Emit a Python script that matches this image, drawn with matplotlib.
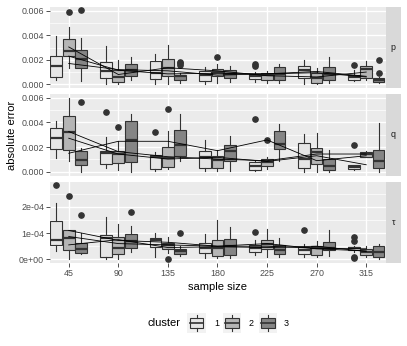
import numpy as np
import matplotlib
matplotlib.use("Agg")
import matplotlib.pyplot as plt
from matplotlib.patches import Rectangle
from matplotlib.lines import Line2D

plt.rcParams['font.family'] = ['Liberation Sans', 'DejaVu Sans']

# ---------------- data ----------------
sample_sizes = [45, 90, 135, 180, 225, 270, 315]
clusters = ['1', '2', '3']
params = ['p', 'q', 'τ']

# p panel (values in units of 1e-3)
p_lo = [[0.33, 0.05, 0.05, 0.05, 0.22, 0.05, 0.27],
        [1.36, 0.05, 0.05, 0.14, 0.14, 0.00, 0.33],
        [0.27, 0.33, 0.14, 0.22, 0.14, 0.11, 0.14]]
p_q1 = [[0.63, 0.55, 0.40, 0.27, 0.41, 0.49, 0.38],
        [2.30, 0.22, 0.68, 0.68, 0.33, 0.11, 0.49],
        [1.36, 0.68, 0.33, 0.55, 0.38, 0.33, 0.22]]
p_med = [[1.50, 1.10, 0.95, 0.76, 0.68, 1.15, 0.60],
         [2.73, 0.60, 1.36, 1.00, 0.74, 0.55, 1.28],
         [2.05, 1.17, 0.68, 0.87, 0.82, 0.82, 0.38]]
p_q3 = [[2.30, 1.85, 1.90, 1.10, 0.87, 1.50, 0.76],
        [3.68, 1.20, 2.05, 1.28, 0.95, 0.90, 1.47],
        [2.80, 1.65, 0.76, 1.17, 1.45, 1.45, 0.55]]
p_hi = [[3.95, 3.10, 2.50, 1.40, 1.00, 1.96, 1.17],
        [4.64, 1.95, 3.20, 1.64, 1.10, 1.36, 1.90],
        [3.80, 2.25, 0.95, 1.50, 1.64, 2.24, 0.60]]
p_out = [[[], [], [], [], [1.65, 1.50], [], [1.55]],
         [[5.90], [], [], [2.24], [], [], []],
         [[6.05], [], [1.85, 1.70, 1.55], [], [], [], [2.00, 0.90]]]
p_mean = [[1.70, 1.20, 1.10, 0.75, 0.85, 1.05, 0.65],
          [3.05, 0.80, 1.35, 1.10, 0.70, 0.60, 1.00],
          [2.30, 1.15, 0.85, 0.90, 0.85, 0.95, 0.60]]

# q panel (values in units of 1e-3)
q_lo = [[1.11, 0.30, 0.08, 0.08, 0.05, 0.00, 0.16],
        [0.84, 0.14, 0.22, 0.08, 0.22, 0.00, 1.17],
        [0.00, 0.00, 0.84, 0.08, 0.90, 0.00, 0.00]]
q_q1 = [[1.85, 0.62, 0.22, 0.30, 0.16, 0.30, 0.19],
        [1.76, 0.68, 0.41, 0.30, 0.43, 0.62, 1.22],
        [0.57, 0.76, 1.30, 0.90, 1.85, 0.16, 0.30]]
q_med = [[2.72, 1.52, 1.17, 1.22, 0.49, 1.03, 0.35],
         [3.26, 1.44, 1.09, 0.98, 0.81, 1.63, 1.44],
         [0.98, 2.58, 2.17, 1.66, 2.25, 0.49, 0.84]]
q_q3 = [[3.56, 1.71, 1.38, 1.71, 0.81, 2.31, 0.52],
        [4.48, 1.71, 2.04, 1.25, 1.03, 1.93, 1.57],
        [1.71, 4.15, 3.39, 2.17, 3.34, 1.03, 1.79]]
q_hi = [[4.15, 2.85, 1.57, 2.60, 0.90, 3.07, 0.57],
        [6.00, 2.52, 3.34, 1.76, 1.17, 3.12, 1.66],
        [1.93, 4.70, 4.64, 2.93, 3.88, 1.79, 3.96]]
q_out = [[[], [4.83], [3.26], [], [4.29], [], [2.20]],
         [[], [3.61], [5.05], [], [2.58], [], []],
         [[5.65], [], [], [], [], [], []]]
q_mean = [[2.72, 1.44, 1.03, 1.17, 0.84, 1.30, 0.57],
          [3.26, 1.63, 1.22, 1.03, 0.90, 1.44, 1.44],
          [1.50, 2.47, 2.47, 1.71, 2.58, 0.90, 1.30]]

# tau panel (values in units of 1e-4)
t_lo = [[0.32, 0.00, 0.08, 0.04, 0.17, 0.08, 0.29],
        [0.00, 0.00, 0.23, 0.04, 0.08, 0.10, 0.08],
        [0.19, 0.27, 0.12, 0.04, 0.10, 0.14, 0.00]]
t_q1 = [[0.55, 0.10, 0.46, 0.23, 0.26, 0.19, 0.36],
        [0.36, 0.19, 0.40, 0.14, 0.40, 0.17, 0.17],
        [0.23, 0.45, 0.19, 0.17, 0.19, 0.36, 0.08]]
t_med = [[0.74, 0.83, 0.74, 0.45, 0.45, 0.36, 0.42],
         [0.83, 0.42, 0.55, 0.45, 0.59, 0.42, 0.29],
         [0.40, 0.68, 0.32, 0.49, 0.36, 0.45, 0.27]]
t_q3 = [[1.47, 0.94, 0.81, 0.64, 0.55, 0.46, 0.46],
        [1.10, 0.85, 0.62, 0.74, 0.74, 0.49, 0.40],
        [0.62, 0.96, 0.40, 0.77, 0.55, 0.65, 0.49]]
t_hi = [[2.15, 1.60, 1.00, 0.96, 0.74, 0.58, 0.50],
        [1.12, 1.35, 0.87, 1.50, 1.15, 0.68, 0.49],
        [1.00, 1.26, 0.49, 1.22, 0.83, 1.13, 0.58]]
t_out = [[[2.83], [], [], [], [1.06], [1.13], [0.87, 0.68, 0.10, 0.04]],
         [[2.41], [], [0.00], [], [], [], []],
         [[1.70], [1.80], [1.00], [], [], [], []]]
t_mean = [[1.10, 0.72, 0.65, 0.50, 0.50, 0.42, 0.40],
          [0.87, 0.60, 0.55, 0.50, 0.60, 0.40, 0.32],
          [0.55, 0.75, 0.45, 0.48, 0.45, 0.50, 0.30]]

panel_scale = [1e-3, 1e-3, 1e-4]
ytick_vals = [[0, 0.002, 0.004, 0.006], [0, 0.002, 0.004, 0.006], [0, 1e-4, 2e-4]]
ytick_labels = [['0.000', '0.002', '0.004', '0.006'],
                ['0.000', '0.002', '0.004', '0.006'],
                ['0e+00', '1e-04', '2e-04']]
yminor_vals = [[0.001, 0.003, 0.005], [0.001, 0.003, 0.005], [0.5e-4, 1.5e-4, 2.5e-4]]

panels = [(p_lo, p_q1, p_med, p_q3, p_hi, p_out, p_mean),
          (q_lo, q_q1, q_med, q_q3, q_hi, q_out, q_mean),
          (t_lo, t_q1, t_med, t_q3, t_hi, t_out, t_mean)]

# ---------------- style ----------------
fills = ['#E6E6E6', '#B5B5B5', '#858585']
edge = '#333333'
panel_bg = '#EBEBEB'
strip_bg = '#D9D9D9'
tick_col = '#4D4D4D'

W, H = 407, 346
fig = plt.figure(figsize=(W / 100, H / 100), dpi=100)

left_px, right_px = 50, 385.5
panel_tops = [6.5, 94, 181.5]
panel_h = 81.5
dodge = 11.25
box_w = 10.6

def fx(px):
    return px / W

def fy(py):
    return 1 - py / H

for k, (lo, q1, med, q3, hi, out, mean) in enumerate(panels):
    s = panel_scale[k]
    top = panel_tops[k]
    ax = fig.add_axes([fx(left_px), fy(top + panel_h), fx(right_px - left_px), panel_h / H])
    ax.set_facecolor(panel_bg)
    for sp in ax.spines.values():
        sp.set_visible(False)
    # grid
    for v in yminor_vals[k]:
        ax.axhline(v, color='white', lw=0.5, zorder=0)
    for v in ytick_vals[k]:
        ax.axhline(v, color='white', lw=1.0, zorder=0)
    for v in sample_sizes:
        ax.axvline(v, color='white', lw=1.0, zorder=0)

    ymax = 0
    for c in range(3):
        stats = []
        pos = []
        for i, n in enumerate(sample_sizes):
            d = dict(med=med[c][i] * s, q1=q1[c][i] * s, q3=q3[c][i] * s,
                     whislo=lo[c][i] * s, whishi=hi[c][i] * s,
                     fliers=[v * s for v in out[c][i]])
            stats.append(d)
            pos.append(n + (c - 1) * dodge)
            ymax = max(ymax, hi[c][i] * s, *(v * s for v in out[c][i])) if out[c][i] else max(ymax, hi[c][i] * s)
        ax.bxp(stats, positions=pos, widths=box_w, patch_artist=True, showcaps=False,
               manage_ticks=False,
               boxprops=dict(facecolor=fills[c], edgecolor=edge, linewidth=0.8),
               medianprops=dict(color=edge, linewidth=1.6),
               whiskerprops=dict(color=edge, linewidth=0.8),
               flierprops=dict(marker='o', markersize=3.8, markerfacecolor=edge,
                               markeredgecolor=edge, linestyle='none'),
               zorder=2)
    for c in range(3):
        ax.plot(sample_sizes, [m * s for m in mean[c]], color='black', lw=0.6, zorder=3)

    ax.set_xlim(28.0, 332.5)
    ax.set_ylim(-0.05 * ymax, 1.05 * ymax)
    ax.set_yticks(ytick_vals[k])
    ax.set_yticklabels(ytick_labels[k])
    ax.set_xticks(sample_sizes)
    ax.tick_params(axis='both', colors='#333333', labelcolor=tick_col, labelsize=6.4,
                   length=2.75, width=0.6, pad=1.5)
    if k < 2:
        ax.tick_params(axis='x', labelbottom=False, length=0)
    else:
        ax.set_xticklabels([str(n) for n in sample_sizes])

    # strip
    sax = fig.add_axes([fx(right_px + 0.5), fy(top + panel_h), fx(14.5), panel_h / H])
    sax.set_facecolor(strip_bg)
    sax.set_xticks([]); sax.set_yticks([])
    for sp in sax.spines.values():
        sp.set_visible(False)
    sax.text(0.5, 0.5, params[k], ha='center', va='center', fontsize=6.4, color='#1A1A1A',
             transform=sax.transAxes)

# axis titles
fig.text(fx(12), fy(135), 'absolute error', rotation=90, ha='center', va='center', fontsize=8)
fig.text(fx((left_px + right_px) / 2), fy(287), 'sample size', ha='center', va='center', fontsize=8)

# legend
fig.text(fx(148), fy(323), 'cluster', ha='left', va='center', fontsize=8)
key_x = [187.3, 222.7, 258.7]
lab_x = [214, 249, 284]
for c in range(3):
    kax = fig.add_axes([fx(key_x[c]), fy(332.5), fx(18.5), 19.5 / H])
    kax.set_xlim(0, 1); kax.set_ylim(0, 1)
    kax.set_facecolor('#F2F2F2')
    kax.set_xticks([]); kax.set_yticks([])
    for sp in kax.spines.values():
        sp.set_visible(False)
    kax.add_patch(Rectangle((0.125, 0.25), 0.75, 0.5, facecolor=fills[c], edgecolor=edge, lw=0.8))
    kax.add_line(Line2D([0.5, 0.5], [0.1, 0.25], color=edge, lw=0.8))
    kax.add_line(Line2D([0.5, 0.5], [0.75, 0.9], color=edge, lw=0.8))
    kax.add_line(Line2D([0.125, 0.875], [0.5, 0.5], color=edge, lw=1.2))
    fig.text(fx(lab_x[c]), fy(323), clusters[c], ha='left', va='center', fontsize=6.4)

fig.savefig('out.png', dpi=100, facecolor='white')
